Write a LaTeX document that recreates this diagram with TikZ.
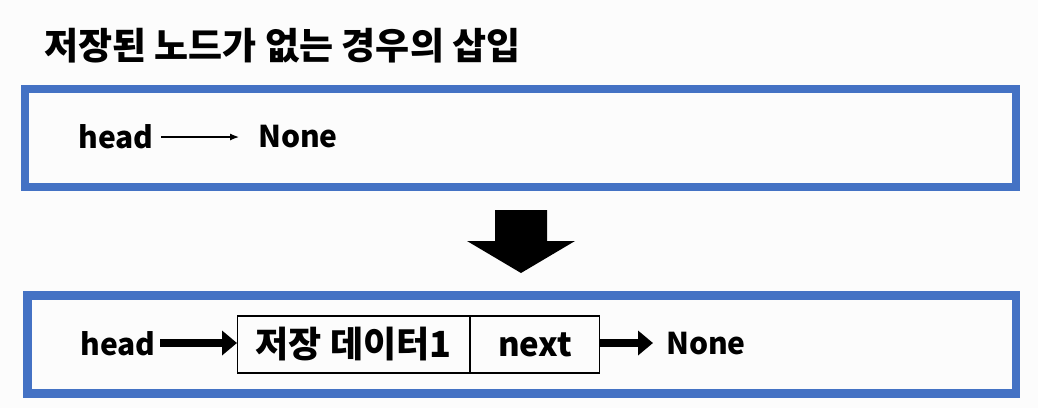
\documentclass[tikz,border=0pt]{standalone}
\usepackage{fontspec}
\setmainfont{Noto Sans CJK KR}
\usepackage{tikz}
\usetikzlibrary{arrows.meta}
\usetikzlibrary{positioning}
\definecolor{frameblue}{RGB}{68,114,196}
\definecolor{bgpaper}{RGB}{252,252,252}

\tikzset{
  frame/.style={draw=frameblue, line width=8.5pt},
  word/.style={font=\fontsize{30}{31}\selectfont\bfseries, inner sep=0pt},
  cell/.style={draw, line width=1.1pt, minimum height=57pt, inner sep=0pt,
    font=\fontsize{33}{35}\selectfont\bfseries},
  thin/.style={-{Latex[length=9pt,width=7pt]}, line width=1.2pt},
  thick/.style={-{Triangle[length=15pt,width=24pt]}, line width=8pt}
}

\begin{document}
\begin{tikzpicture}[x=1pt,y=-1pt]
    \fill[bgpaper] (0,0) rectangle (1038,408);
    \useasboundingbox (0,0) rectangle (1038,408);
    % title
    \node[anchor=west, inner sep=0pt, font=\fontsize{37}{39}\selectfont\bfseries] (title) at (44,46) {저장된 노드가 없는 경우의 삽입};
    % before
    \draw[frame] (25,89) rectangle (1016,187);
    \node[word] (head1) at (116,137) {head};
    \node[word] (none1) at (298,137) {None};
    \draw[thin] (161,137) -- (239,137);
    % big arrow
    \fill (495,210) -- (547,210) -- (547,241) -- (575,241) -- (521,273) -- (467,241) -- (495,241) -- cycle;
    % after
    \draw[frame] (27.5,295.5) rectangle (1016,393.5);
    \node[cell, minimum width=232pt, anchor=west] (data) at (237,344.5) {\fontsize{36}{38}\selectfont 저장 데이터1};
    \node[cell, minimum width=129pt, anchor=west] (nxt) at (data.east) {next};
    \node[word] (head2) at (118,344) {head};
    \node[word] (none2) at (706,344) {None};
    \draw[thick] (160,343) -- (data.west |- 0,343);
    \draw[thick] (nxt.east |- 0,343) -- (653,343);
\end{tikzpicture}
\end{document}
